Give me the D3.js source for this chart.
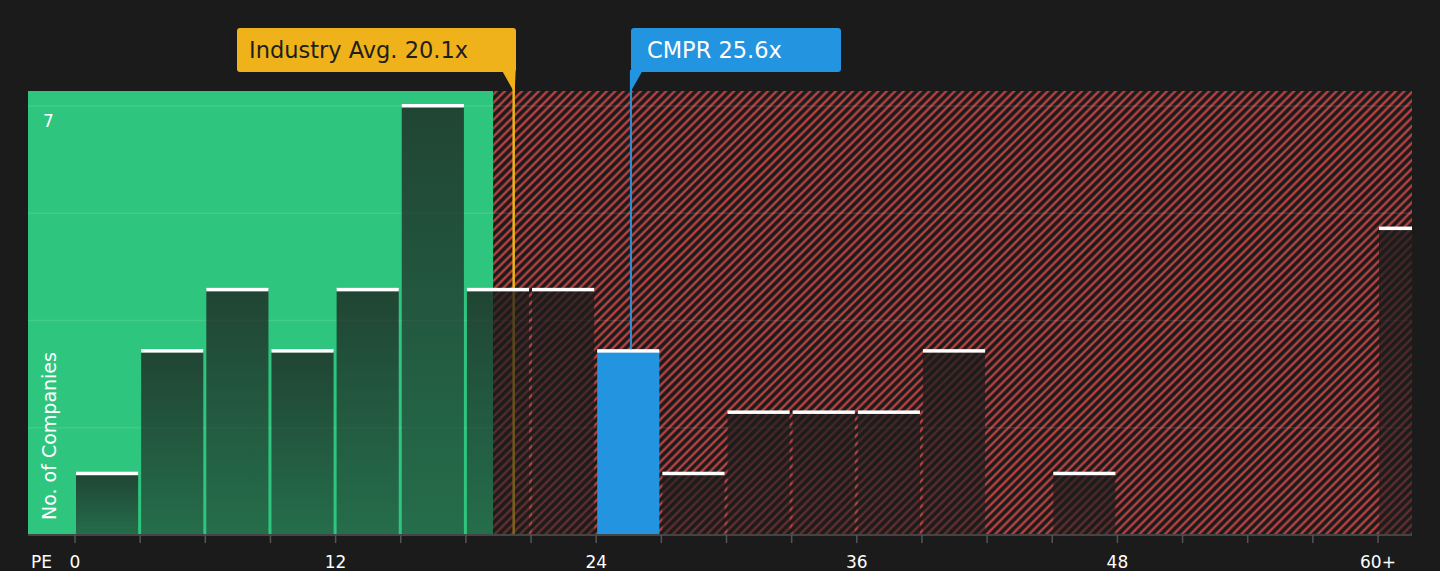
<!DOCTYPE html>
<html>
<head>
<meta charset="utf-8">
<script src="https://cdn.jsdelivr.net/npm/d3@7"></script>
<style>
  body { margin: 0; background: #1b1b1b; }
  svg { display: block; font-family: "DejaVu Sans", sans-serif; }
</style>
</head>
<body>
<div></div>
<script>
// histogram bins (PE ranges of width 3, last one is 60+)
const binStarts = [0, 3, 6, 9, 12, 15, 18, 21, 24, 27, 30, 33, 36, 39, 42, 45, 48, 51, 54, 57, 60];
const counts = [1, 3, 4, 3, 4, 7, 4, 4, 3, 1, 2, 2, 2, 3, 0, 1, 0, 0, 0, 0, 5];
const xTicks = [0, 12, 24, 36, 48, 60];
const xTickLabels = ["0", "12", "24", "36", "48", "60+"];
const yGrid = [1.75, 3.5, 5.25, 7];
const industryAvg = 20.2; // line position
const industryLabel = "Industry Avg. 20.1x";
const companyPE = 25.6;
const companyLabel = "CMPR 25.6x";
const fairLimit = 19.25;
const binWidth = 3;

const w = 1440;
const h = 571;
const svg = d3.select("div").append("svg").attr("width", w).attr("height", h);

const x = d3.scaleLinear().domain([0, 60]).range([75, 1378]);
const y = d3.scaleLinear().domain([0, 7]).range([535, 106]);
const plotLeft = 28;
const plotRight = 1412;
const plotTop = 91;
const plotBottom = 535;

const defs = svg.append("defs");
const pat = defs
  .append("pattern")
  .attr("id", "hatch")
  .attr("patternUnits", "userSpaceOnUse")
  .attr("width", 6)
  .attr("height", 6)
  .attr("patternTransform", "rotate(45)");
pat.append("rect").attr("width", 6).attr("height", 6).attr("fill", "#1b1b1b");
pat
  .append("line")
  .attr("x1", 1.5)
  .attr("y1", 0)
  .attr("x2", 1.5)
  .attr("y2", 6)
  .attr("stroke", "#d04646")
  .attr("stroke-width", 2.1);

const grad = defs
  .append("linearGradient")
  .attr("id", "barGrad")
  .attr("x1", 0)
  .attr("y1", 0)
  .attr("x2", 0)
  .attr("y2", 1);
grad.append("stop").attr("offset", "0%").attr("stop-color", "#1c1c1c").attr("stop-opacity", 0.76);
grad.append("stop").attr("offset", "100%").attr("stop-color", "#1c1c1c").attr("stop-opacity", 0.52);

defs
  .append("clipPath")
  .attr("id", "plotClip")
  .append("rect")
  .attr("x", plotLeft)
  .attr("y", 0)
  .attr("width", plotRight - plotLeft)
  .attr("height", h);

// green and red zones
svg
  .append("rect")
  .attr("x", plotLeft)
  .attr("y", plotTop)
  .attr("width", x(fairLimit) - plotLeft)
  .attr("height", plotBottom - plotTop)
  .attr("fill", "#2ec67e");
svg
  .append("rect")
  .attr("x", x(fairLimit))
  .attr("y", plotTop)
  .attr("width", plotRight - x(fairLimit))
  .attr("height", plotBottom - plotTop)
  .attr("fill", "url(#hatch)");

// grid
svg
  .selectAll(".grid")
  .data(yGrid)
  .enter()
  .append("line")
  .attr("x1", plotLeft)
  .attr("x2", plotRight)
  .attr("y1", (d) => y(d))
  .attr("y2", (d) => y(d))
  .attr("stroke", "#ffffff")
  .attr("stroke-opacity", 0.1)
  .attr("stroke-width", 1.5);

svg
  .append("text")
  .attr("x", 43)
  .attr("y", y(7) + 21)
  .attr("fill", "#ffffff")
  .attr("font-size", 17)
  .text("7");

// industry avg line (behind bars)
svg
  .append("line")
  .attr("x1", x(industryAvg))
  .attr("x2", x(industryAvg))
  .attr("y1", 72)
  .attr("y2", plotBottom)
  .attr("stroke", "#f0b21a")
  .attr("stroke-width", 2.5);

const bars = svg.append("g").attr("clip-path", "url(#plotClip)");
const isCompany = (d) => companyPE >= d && companyPE < d + binWidth;
const filled = binStarts.filter((d, i) => counts[i] > 0);
const countOf = (d) => counts[binStarts.indexOf(d)];

bars
  .selectAll("rect.bar")
  .data(filled)
  .enter()
  .append("rect")
  .attr("class", "bar")
  .attr("x", (d) => x(d) + 1)
  .attr("width", (d) => x(d + binWidth) - x(d) - 3)
  .attr("y", (d) => y(countOf(d)))
  .attr("height", (d) => plotBottom - y(countOf(d)))
  .attr("fill", (d) => (isCompany(d) ? "#2394e0" : "url(#barGrad)"));

bars
  .selectAll("rect.cap")
  .data(filled)
  .enter()
  .append("rect")
  .attr("class", "cap")
  .attr("x", (d) => x(d) + 1)
  .attr("width", (d) => x(d + binWidth) - x(d) - 3)
  .attr("y", (d) => y(countOf(d)) - 2)
  .attr("height", 3.5)
  .attr("fill", "#ffffff");

// company line
const compTop = y(countOf(binStarts.find(isCompany)));
svg
  .append("line")
  .attr("x1", x(companyPE))
  .attr("x2", x(companyPE))
  .attr("y1", 72)
  .attr("y2", compTop - 2)
  .attr("stroke", "#2f8fd6")
  .attr("stroke-width", 2);

// x axis
svg
  .append("line")
  .attr("x1", plotLeft)
  .attr("x2", plotRight)
  .attr("y1", plotBottom)
  .attr("y2", plotBottom)
  .attr("stroke", "#444444")
  .attr("stroke-width", 2);
svg
  .selectAll(".tick")
  .data(binStarts)
  .enter()
  .append("line")
  .attr("x1", (d) => x(d))
  .attr("x2", (d) => x(d))
  .attr("y1", plotBottom)
  .attr("y2", plotBottom + 8)
  .attr("stroke", "#555555")
  .attr("stroke-width", 1.5);
svg
  .selectAll(".tickLabel")
  .data(xTicks)
  .enter()
  .append("text")
  .attr("x", (d) => x(d))
  .attr("y", 568)
  .attr("text-anchor", "middle")
  .attr("fill", "#ffffff")
  .attr("font-size", 17)
  .text((d, i) => xTickLabels[i]);
svg
  .append("text")
  .attr("x", 31)
  .attr("y", 568)
  .attr("fill", "#ffffff")
  .attr("font-size", 17)
  .text("PE");

svg
  .append("text")
  .attr("transform", "translate(56,520) rotate(-90)")
  .attr("fill", "#ffffff")
  .attr("font-size", 19)
  .text("No. of Companies");

// labels
function callout(px, boxX, boxW, color, textColor, label, tailLeft) {
  const g = svg.append("g");
  g.append("rect")
    .attr("x", boxX)
    .attr("y", 28)
    .attr("width", boxW)
    .attr("height", 44)
    .attr("rx", 3)
    .attr("fill", color);
  const pts = tailLeft
    ? [[px - 1, 70], [px + 12, 70], [px - 1, 93]]
    : [[px - 12, 70], [px + 2, 70], [px + 1, 93]];
  g.append("polygon")
    .attr("points", pts.map((p) => p.join(",")).join(" "))
    .attr("fill", color);
  g.append("text")
    .attr("x", boxX + (tailLeft ? 16 : 12))
    .attr("y", 58)
    .attr("fill", textColor)
    .attr("font-size", 22.5)
    .text(label);
}
callout(x(industryAvg), 237, 279, "#f0b21a", "#1e1e1e", industryLabel, false);
callout(x(companyPE), 631, 210, "#2394e0", "#ffffff", companyLabel, true);
</script>
</body>
</html>
